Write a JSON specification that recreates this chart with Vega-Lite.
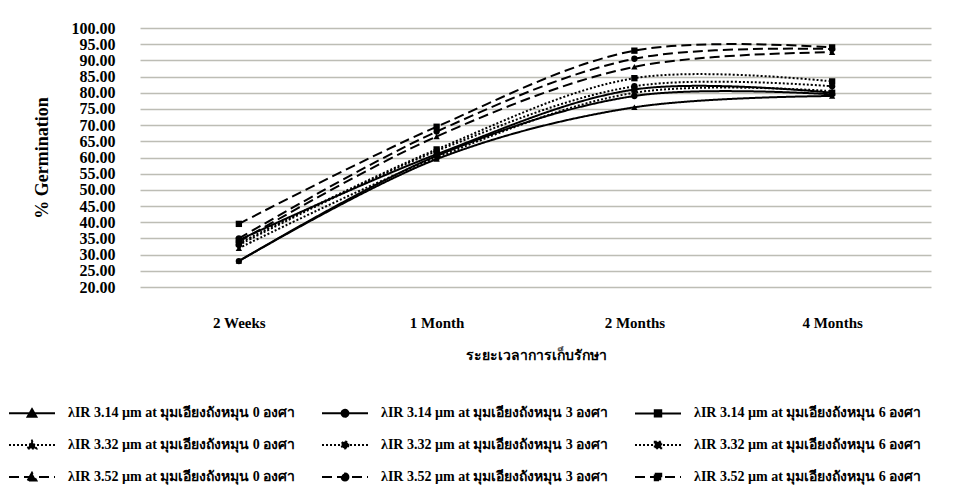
{
  "$schema": "https://vega.github.io/schema/vega-lite/v6.json",
  "width": 791,
  "height": 259,
  "autosize": {"type": "none"},
  "padding": {"left": 140, "top": 28, "right": 34, "bottom": 199},
  "background": "white",
  "config": {
    "view": {"stroke": null},
    "font": "Liberation Serif"
  },
  "data": {
    "values": [
      {"series": "λIR 3.14 µm at มุมเอียงถังหมุน 0 องศา", "angle": "0", "time": "2 Weeks", "value": 28.0},
      {"series": "λIR 3.14 µm at มุมเอียงถังหมุน 0 องศา", "angle": "0", "time": "1 Month", "value": 59.5},
      {"series": "λIR 3.14 µm at มุมเอียงถังหมุน 0 องศา", "angle": "0", "time": "2 Months", "value": 75.5},
      {"series": "λIR 3.14 µm at มุมเอียงถังหมุน 0 องศา", "angle": "0", "time": "4 Months", "value": 79.0},
      {"series": "λIR 3.14 µm at มุมเอียงถังหมุน 3 องศา", "angle": "3", "time": "2 Weeks", "value": 28.0},
      {"series": "λIR 3.14 µm at มุมเอียงถังหมุน 3 องศา", "angle": "3", "time": "1 Month", "value": 60.5},
      {"series": "λIR 3.14 µm at มุมเอียงถังหมุน 3 องศา", "angle": "3", "time": "2 Months", "value": 79.0},
      {"series": "λIR 3.14 µm at มุมเอียงถังหมุน 3 องศา", "angle": "3", "time": "4 Months", "value": 79.5},
      {"series": "λIR 3.14 µm at มุมเอียงถังหมุน 6 องศา", "angle": "6", "time": "2 Weeks", "value": 34.5},
      {"series": "λIR 3.14 µm at มุมเอียงถังหมุน 6 องศา", "angle": "6", "time": "1 Month", "value": 61.0},
      {"series": "λIR 3.14 µm at มุมเอียงถังหมุน 6 องศา", "angle": "6", "time": "2 Months", "value": 81.0},
      {"series": "λIR 3.14 µm at มุมเอียงถังหมุน 6 องศา", "angle": "6", "time": "4 Months", "value": 80.0},
      {"series": "λIR 3.32 µm at มุมเอียงถังหมุน 0 องศา", "angle": "0", "time": "2 Weeks", "value": 32.0},
      {"series": "λIR 3.32 µm at มุมเอียงถังหมุน 0 องศา", "angle": "0", "time": "1 Month", "value": 60.0},
      {"series": "λIR 3.32 µm at มุมเอียงถังหมุน 0 องศา", "angle": "0", "time": "2 Months", "value": 80.0},
      {"series": "λIR 3.32 µm at มุมเอียงถังหมุน 0 องศา", "angle": "0", "time": "4 Months", "value": 80.5},
      {"series": "λIR 3.32 µm at มุมเอียงถังหมุน 3 องศา", "angle": "3", "time": "2 Weeks", "value": 33.0},
      {"series": "λIR 3.32 µm at มุมเอียงถังหมุน 3 องศา", "angle": "3", "time": "1 Month", "value": 62.0},
      {"series": "λIR 3.32 µm at มุมเอียงถังหมุน 3 องศา", "angle": "3", "time": "2 Months", "value": 82.0},
      {"series": "λIR 3.32 µm at มุมเอียงถังหมุน 3 องศา", "angle": "3", "time": "4 Months", "value": 82.0},
      {"series": "λIR 3.32 µm at มุมเอียงถังหมุน 6 องศา", "angle": "6", "time": "2 Weeks", "value": 33.5},
      {"series": "λIR 3.32 µm at มุมเอียงถังหมุน 6 องศา", "angle": "6", "time": "1 Month", "value": 62.5},
      {"series": "λIR 3.32 µm at มุมเอียงถังหมุน 6 องศา", "angle": "6", "time": "2 Months", "value": 84.5},
      {"series": "λIR 3.32 µm at มุมเอียงถังหมุน 6 องศา", "angle": "6", "time": "4 Months", "value": 83.5},
      {"series": "λIR 3.52 µm at มุมเอียงถังหมุน 0 องศา", "angle": "0", "time": "2 Weeks", "value": 34.0},
      {"series": "λIR 3.52 µm at มุมเอียงถังหมุน 0 องศา", "angle": "0", "time": "1 Month", "value": 66.5},
      {"series": "λIR 3.52 µm at มุมเอียงถังหมุน 0 องศา", "angle": "0", "time": "2 Months", "value": 88.0},
      {"series": "λIR 3.52 µm at มุมเอียงถังหมุน 0 องศา", "angle": "0", "time": "4 Months", "value": 92.5},
      {"series": "λIR 3.52 µm at มุมเอียงถังหมุน 3 องศา", "angle": "3", "time": "2 Weeks", "value": 35.0},
      {"series": "λIR 3.52 µm at มุมเอียงถังหมุน 3 องศา", "angle": "3", "time": "1 Month", "value": 68.0},
      {"series": "λIR 3.52 µm at มุมเอียงถังหมุน 3 องศา", "angle": "3", "time": "2 Months", "value": 90.5},
      {"series": "λIR 3.52 µm at มุมเอียงถังหมุน 3 องศา", "angle": "3", "time": "4 Months", "value": 93.5},
      {"series": "λIR 3.52 µm at มุมเอียงถังหมุน 6 องศา", "angle": "6", "time": "2 Weeks", "value": 39.5},
      {"series": "λIR 3.52 µm at มุมเอียงถังหมุน 6 องศา", "angle": "6", "time": "1 Month", "value": 69.5},
      {"series": "λIR 3.52 µm at มุมเอียงถังหมุน 6 องศา", "angle": "6", "time": "2 Months", "value": 93.0},
      {"series": "λIR 3.52 µm at มุมเอียงถังหมุน 6 องศา", "angle": "6", "time": "4 Months", "value": 94.0}
    ]
  },
  "encoding": {
    "x": {
      "field": "time",
      "type": "ordinal",
      "sort": ["2 Weeks", "1 Month", "2 Months", "4 Months"],
      "scale": {"type": "point", "padding": 0.5},
      "axis": {
        "title": "ระยะเวลาการเก็บรักษา",
        "labelAngle": 0,
        "domain": false,
        "ticks": false,
        "grid": false,
        "labelFont": "Liberation Serif",
        "labelFontWeight": "bold",
        "labelFontSize": 15,
        "labelColor": "black",
        "labelPadding": 28,
        "titleFont": "Liberation Serif",
        "titleFontWeight": "bold",
        "titleFontSize": 14,
        "titleColor": "black",
        "titlePadding": 18
      }
    },
    "y": {
      "field": "value",
      "type": "quantitative",
      "scale": {"domain": [20, 100], "nice": false, "zero": false},
      "axis": {
        "title": "% Germination",
        "values": [20, 25, 30, 35, 40, 45, 50, 55, 60, 65, 70, 75, 80, 85, 90, 95, 100],
        "format": ".2f",
        "domain": false,
        "ticks": false,
        "grid": true,
        "gridColor": "#bdbdb5",
        "gridWidth": 1.5,
        "labelFont": "Liberation Serif",
        "labelFontWeight": "bold",
        "labelFontSize": 16,
        "labelColor": "black",
        "labelPadding": 25,
        "titleFont": "Liberation Serif",
        "titleFontWeight": "bold",
        "titleFontSize": 18,
        "titleColor": "black",
        "titlePadding": 20
      }
    }
  },
  "layer": [
    {
      "mark": {"type": "line", "interpolate": "catmull-rom", "color": "black", "strokeWidth": 2},
      "encoding": {
        "detail": {"field": "series"},
        "strokeDash": {
          "field": "series",
          "type": "nominal",
          "scale": {
            "domain": [
              "λIR 3.14 µm at มุมเอียงถังหมุน 0 องศา",
              "λIR 3.14 µm at มุมเอียงถังหมุน 3 องศา",
              "λIR 3.14 µm at มุมเอียงถังหมุน 6 องศา",
              "λIR 3.32 µm at มุมเอียงถังหมุน 0 องศา",
              "λIR 3.32 µm at มุมเอียงถังหมุน 3 องศา",
              "λIR 3.32 µm at มุมเอียงถังหมุน 6 องศา",
              "λIR 3.52 µm at มุมเอียงถังหมุน 0 องศา",
              "λIR 3.52 µm at มุมเอียงถังหมุน 3 องศา",
              "λIR 3.52 µm at มุมเอียงถังหมุน 6 องศา"
            ],
            "range": [[1, 0], [1, 0], [1, 0], [2, 2], [2, 2], [2, 2], [10, 5], [10, 5], [10, 5]]
          },
          "legend": {
            "title": null,
            "orient": "none",
            "legendX": -132,
            "legendY": 361,
            "direction": "horizontal",
            "columns": 3,
            "gridAlign": "all",
            "columnPadding": 22,
            "rowPadding": -17,
            "symbolSize": 2116,
            "symbolStrokeWidth": 2,
            "symbolStrokeColor": "black",
            "symbolFillColor": "black",
            "labelFont": "Liberation Serif",
            "labelFontWeight": "bold",
            "labelFontSize": 14,
            "labelColor": "black",
            "labelLimit": 0,
            "labelOffset": 12,
            "encode": {
              "symbols": {
                "update": {
                  "fill": {"value": "black"},
                  "stroke": {"value": "black"},
                  "shape": {
                    "signal": "indexof(datum.value, 'ถังหมุน 0') >= 0 ? 'M-1,0H1M-0.19,0.15L0,-0.18L0.19,0.15Z' : indexof(datum.value, 'ถังหมุน 3') >= 0 ? 'M-1,0H1M0.15,0A0.15,0.15 0 1,1 -0.15,0A0.15,0.15 0 1,1 0.15,0Z' : 'M-1,0H1M-0.14,-0.14H0.14V0.14H-0.14Z'"
                  }
                }
              }
            }
          }
        }
      }
    },
    {
      "mark": {"type": "point", "filled": true, "color": "black", "opacity": 1, "size": 40},
      "encoding": {
        "shape": {
          "field": "angle",
          "type": "nominal",
          "scale": {"domain": ["0", "3", "6"], "range": ["triangle-up", "circle", "square"]},
          "legend": null
        }
      }
    }
  ]
}
